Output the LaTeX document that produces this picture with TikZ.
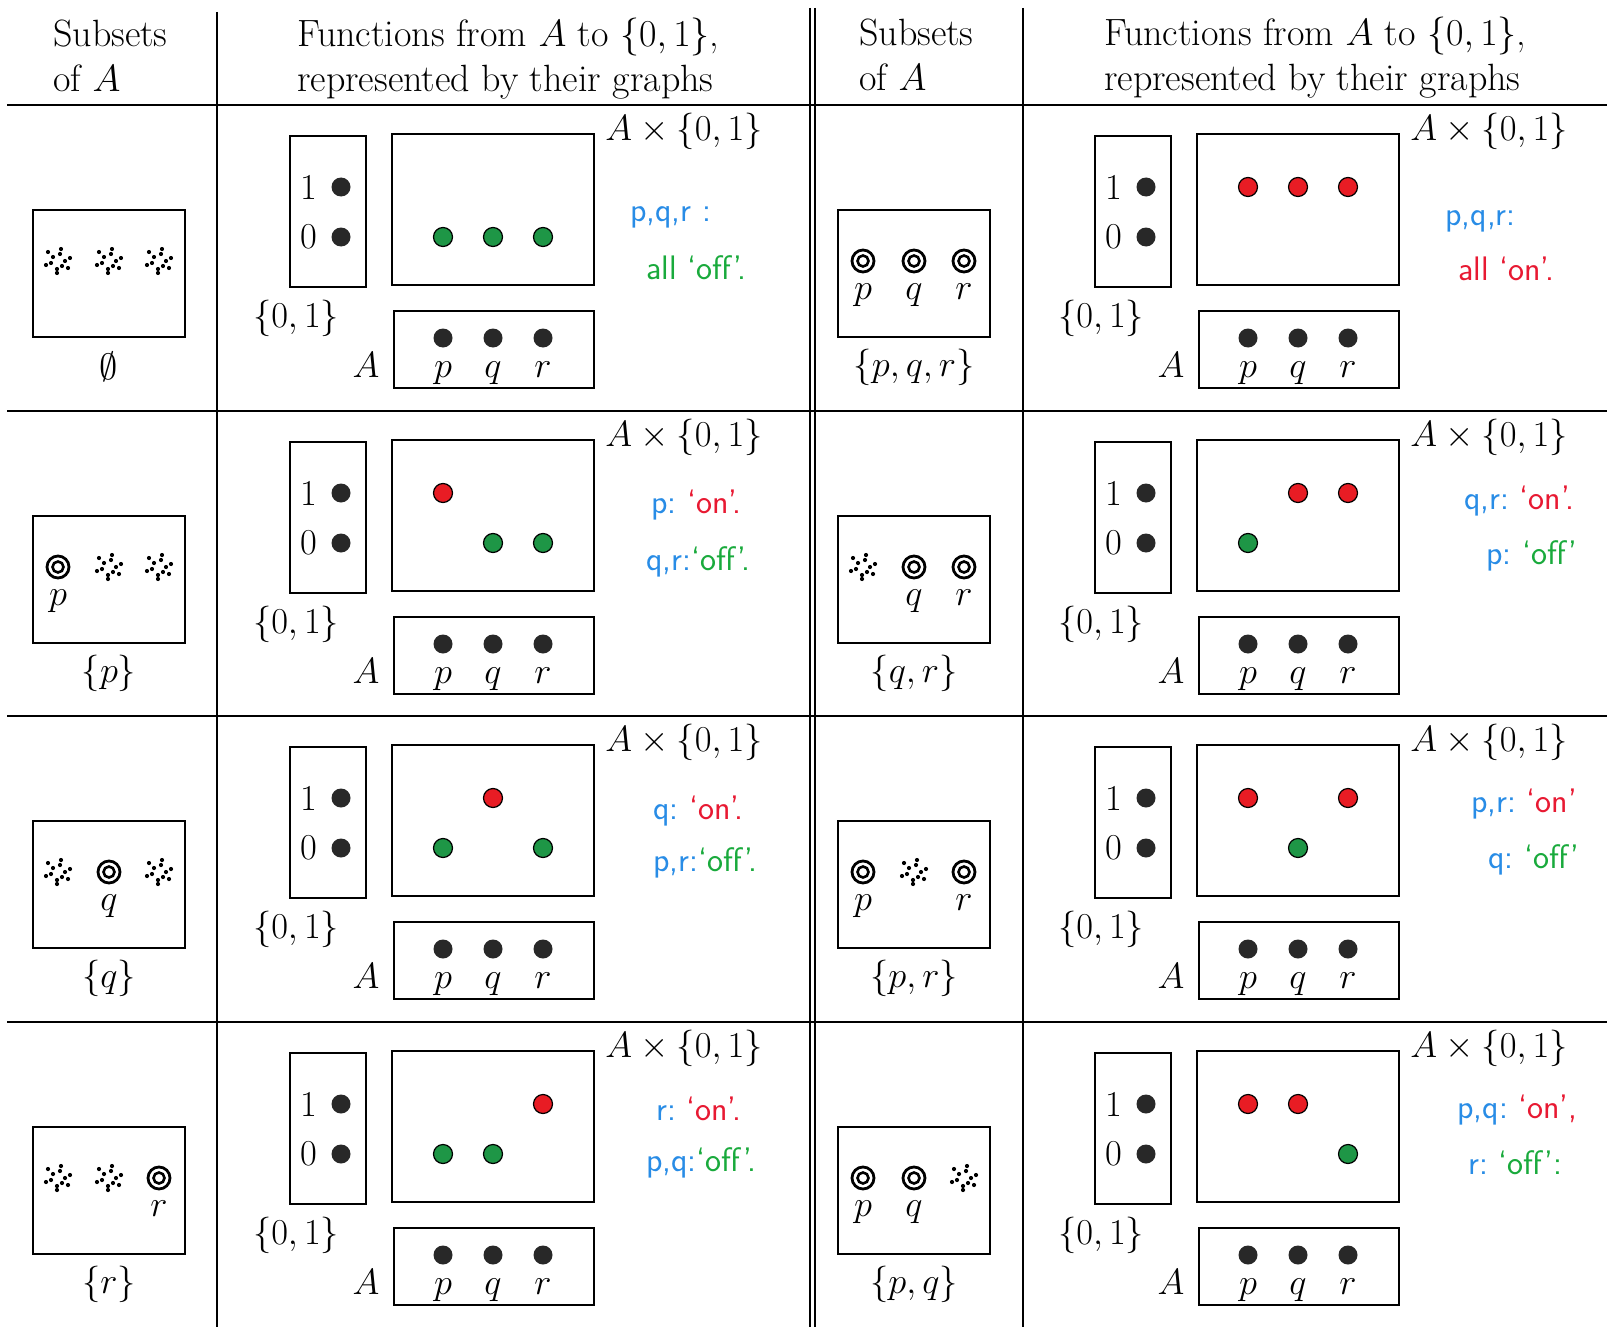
\RequirePackage{fix-cm}
\documentclass[tikz,border=0pt]{standalone}
\usepackage{fontspec}
\definecolor{hblue}{RGB}{40,140,230}
\definecolor{hgreen}{RGB}{25,170,60}
\definecolor{hred}{RGB}{232,25,50}
\definecolor{dotgreen}{RGB}{30,150,70}
\definecolor{dotred}{RGB}{232,28,36}
\definecolor{dotgray}{RGB}{40,40,40}
\tikzset{
  tbl/.style={line width=2pt},
  box/.style={draw, rectangle, line width=1.8pt, inner sep=0pt},
  lbl/.style={font={\fontsize{36.5}{44}\selectfont}, inner sep=0pt},
  hdr/.style={font={\fontsize{38}{46}\selectfont}, inner sep=0pt, anchor=base west},
  bdot/.style={circle, fill=dotgray, inner sep=0pt, minimum size=19pt},
  gdot/.style={circle, fill=dotgreen, draw=black, line width=1.2pt, inner sep=0pt, minimum size=19pt},
  rdot/.style={circle, fill=dotred, draw=black, line width=1.2pt, inner sep=0pt, minimum size=19pt},
  ring/.style={circle, draw, line width=2.8pt, inner sep=0pt, minimum size=22pt},
  note/.style={font={\fontsize{34}{40}\selectfont\sffamily}, inner sep=0pt, anchor=west},
}
\newcommand{\sparklemark}[2]{%
  \foreach \dx/\dy in {-10/-9,3/-12,-5/-4,2/-7,-12/4,-7/2,7/0,12/-3,4/5,10/7,-1/8,-1/12}
    {\fill (#1+\dx,#2+\dy) circle[radius=2.1pt];}}
\newcommand{\subelem}[4]{%
  \ifnum#3=1
    \node[ring] (#1) at (#2,156) {};
    \draw[line width=2.6pt] (#1.center) circle[radius=5.5pt];
    \node[lbl,anchor=base] (#1l) at (#2,194) {$#4$};
  \else
    \sparklemark{#2}{156}
  \fi}
\newcommand{\subcell}[7]{%
  \begin{scope}[shift={(#2,#3)}]
    \node[box, minimum width=152pt, minimum height=127pt] (#1S) at (109,168.5) {};
    \subelem{#1p}{58}{#4}{p}
    \subelem{#1q}{109}{#5}{q}
    \subelem{#1r}{159}{#6}{r}
    \node[lbl] (#1L) at (109,262) {$#7$};
  \end{scope}}
\newcommand{\graphdot}[3]{%
  \ifnum#3=1
    \node[rdot] (#1) at (#2,82) {};
  \else
    \node[gdot] (#1) at (#2,132) {};
  \fi}
\newcommand{\fncell}[6]{%
  \begin{scope}[shift={(#2,#3)}]
    \node[box, minimum width=76pt, minimum height=151pt] (#1B) at (328,106.5) {};
    \node[lbl] (#1one) at (309,82) {1};
    \node[bdot] (#1d1) at (341,82) {};
    \node[lbl] (#1zero) at (309,132) {0};
    \node[bdot] (#1d0) at (341,132) {};
    \node[box, minimum width=202pt, minimum height=151pt] (#1G) at (493,104.5) {};
    \node[box, minimum width=200pt, minimum height=77pt] (#1A) at (494,244.5) {};
    \node[bdot] (#1ap) at (443,233) {};
    \node[bdot] (#1aq) at (493,233) {};
    \node[bdot] (#1ar) at (543,233) {};
    \node[lbl, anchor=base] (#1lp) at (443,272) {$p$};
    \node[lbl, anchor=base] (#1lq) at (493,272) {$q$};
    \node[lbl, anchor=base] (#1lr) at (543,272) {$r$};
    \node[lbl] (#1Bl) at (296,213) {$\{0,1\}$};
    \node[lbl, anchor=base] (#1Al) at (366,272) {$A$};
    \node[lbl] (#1P) at (684,26) {$A\times\{0,1\}$};
    \graphdot{#1gp}{443}{#4}
    \graphdot{#1gq}{493}{#5}
    \graphdot{#1gr}{543}{#6}
  \end{scope}}
\begin{document}
\begin{tikzpicture}[x=1pt, y=-1pt]
  \useasboundingbox (0,0) rectangle (1607,1327);
  \fill[white] (0,0) rectangle (1607,1327);
  % table rules
  \draw[tbl] (7,105) -- (1607,105);
  \draw[tbl] (7,411) -- (1607,411);
  \draw[tbl] (7,716) -- (1607,716);
  \draw[tbl] (7,1022) -- (1607,1022);
  \draw[tbl] (217,12) -- (217,1327);
  \draw[tbl] (810,8) -- (810,1327);
  \draw[tbl] (815,8) -- (815,1327);
  \draw[tbl] (1023,8) -- (1023,1327);
  % headers
  \node[hdr] (h1a) at (53,47) {Subsets};
  \node[hdr] (h1b) at (53,92) {of $A$};
  \node[hdr] (h2a) at (297,47) {Functions from $A$ to $\{0,1\}$,};
  \node[hdr] (h2b) at (297,92) {represented by their graphs};
  \node[hdr] (h3a) at (859,46) {Subsets};
  \node[hdr] (h3b) at (859,91) {of $A$};
  \node[hdr] (h4a) at (1104,46) {Functions from $A$ to $\{0,1\}$,};
  \node[hdr] (h4b) at (1104,91) {represented by their graphs};
  % left half
  \subcell{sa}{0}{105}{0}{0}{0}{\emptyset}
  \fncell{fa}{0}{105}{0}{0}{0}
  \subcell{sb}{0}{411}{1}{0}{0}{\{p\}}
  \fncell{fb}{0}{411}{1}{0}{0}
  \subcell{sc}{0}{716}{0}{1}{0}{\{q\}}
  \fncell{fc}{0}{716}{0}{1}{0}
  \subcell{sd}{0}{1022}{0}{0}{1}{\{r\}}
  \fncell{fd}{0}{1022}{0}{0}{1}
  % right half
  \subcell{se}{805}{105}{1}{1}{1}{\{p,q,r\}}
  \fncell{fe}{805}{105}{1}{1}{1}
  \subcell{sf}{805}{411}{0}{1}{1}{\{q,r\}}
  \fncell{ff}{805}{411}{0}{1}{1}
  \subcell{sg}{805}{716}{1}{0}{1}{\{p,r\}}
  \fncell{fg}{805}{716}{1}{0}{1}
  \subcell{sh}{805}{1022}{1}{1}{0}{\{p,q\}}
  \fncell{fh}{805}{1022}{1}{1}{0}
  % handwritten notes
  \node[note, text=hblue] (na1) at (630,217) {p,q,r :};
  \node[note, text=hgreen] (na2) at (646,268) {all `off'.};
  \node[note] (nb1) at (651,505) {\textcolor{hblue}{p:}\ \textcolor{hred}{`on'.}};
  \node[note] (nb2) at (646,562) {\textcolor{hblue}{q,r:}\textcolor{hgreen}{`off'.}};
  \node[note] (nc1) at (653,811) {\textcolor{hblue}{q:}\ \textcolor{hred}{`on'.}};
  \node[note] (nc2) at (653,863) {\textcolor{hblue}{p,r:}\textcolor{hgreen}{`off'.}};
  \node[note] (nd1) at (656,1109) {\textcolor{hblue}{r:}\ \textcolor{hred}{`on'.}};
  \node[note] (nd2) at (646,1163) {\textcolor{hblue}{p,q:}\textcolor{hgreen}{`off'.}};
  \node[note, text=hblue] (ne1) at (1445,221) {p,q,r:};
  \node[note, text=hred] (ne2) at (1458,269) {all `on'.};
  \node[note] (nf1) at (1464,501) {\textcolor{hblue}{q,r:}\ \textcolor{hred}{`on'.}};
  \node[note] (nf2) at (1486,556) {\textcolor{hblue}{p:}\ \textcolor{hgreen}{`off'}};
  \node[note] (ng1) at (1471,804) {\textcolor{hblue}{p,r:}\ \textcolor{hred}{`on'}};
  \node[note] (ng2) at (1488,860) {\textcolor{hblue}{q:}\ \textcolor{hgreen}{`off'}};
  \node[note] (nh1) at (1457,1110) {\textcolor{hblue}{p,q:}\ \textcolor{hred}{`on',}};
  \node[note] (nh2) at (1468,1163) {\textcolor{hblue}{r:}\ \textcolor{hgreen}{`off':}};
\end{tikzpicture}
\end{document}
